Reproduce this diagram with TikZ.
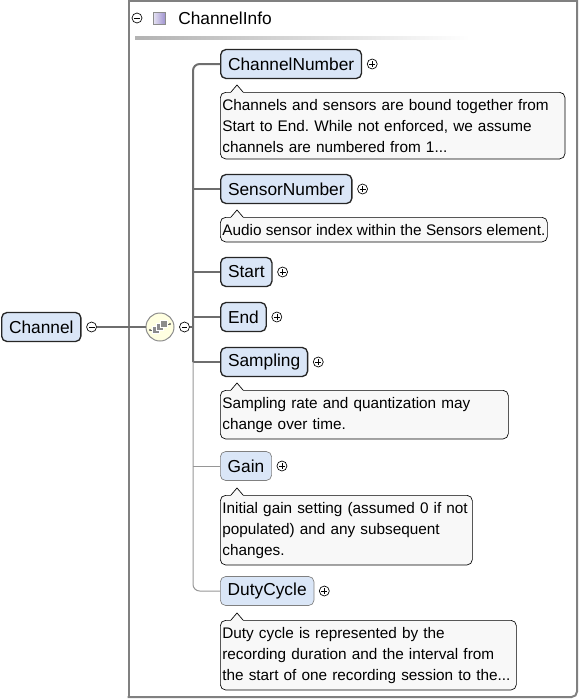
\documentclass[tikz,border=0pt]{standalone}
\usepackage{fontspec}
\setmainfont{Liberation Sans}
\usepackage{xcolor}
\usetikzlibrary{positioning}
\usetikzlibrary{calc}
\definecolor{elfill}{RGB}{218, 230, 247}
\definecolor{ntfill}{RGB}{248, 248, 248}
\definecolor{ln}{RGB}{110, 110, 110}
\definecolor{lnopt}{RGB}{150, 150, 150}
\definecolor{seqfill}{RGB}{255, 255, 225}
\definecolor{grp}{RGB}{160, 148, 208}
\frenchspacing

\tikzset{
    el/.style={draw=black!85, line width=1pt, fill=elfill, rounded corners=4pt, minimum height=21.75pt, inner xsep=5.5pt, inner ysep=0pt, font=\fontsize{13}{15}\selectfont, anchor=west},
    elopt/.style={el, draw=black!50, line width=0.5pt},
    nt/.style={draw, line width=0.5pt, fill=ntfill, rounded corners=4pt, inner xsep=1.5pt, inner ysep=5pt, align=left, anchor=north west, font=\fontsize{11.5}{15.75}\selectfont},
    btn/.style={circle, draw, line width=0.5pt, inner sep=0pt, minimum size=7.5pt},
    btnplus/.style={btn, path picture={\draw[line width=0.4pt] ([xshift=-2.2pt]path picture bounding box.center) -- ([xshift=2.2pt]path picture bounding box.center) ([yshift=-2.2pt]path picture bounding box.center) -- ([yshift=2.2pt]path picture bounding box.center);}},
    btnminus/.style={btn, path picture={\draw[line width=0.4pt] ([xshift=-2.2pt]path picture bounding box.center) -- ([xshift=2.2pt]path picture bounding box.center);}},
    con/.style={ln, line width=1.5pt},
    conopt/.style={lnopt, line width=0.75pt},
    frame/.style={black!50, line width=1.5pt, line cap=rect}
}

% the little notch on top of a note
\newcommand{\notch}[1]{
    \fill[ntfill] ($(#1.north west)+(11,0.8)$) -- ($(#1.north west)+(17,-7)$) -- ($(#1.north west)+(23,0.8)$) -- cycle;
    \draw[line width=0.5pt] ($(#1.north west)+(11,0)$) -- ($(#1.north west)+(17,-7)$) -- ($(#1.north west)+(23,0)$);
}

\begin{document}
\begin{tikzpicture}[x=0.75pt, y=-0.75pt]
        \useasboundingbox (0,0) rectangle (580,700);
        % group frame
        \draw[frame] (577,0.5) -- (128.5,0.5) -- (128.5,697);
        \draw[frame, rounded corners=4pt] (128.5,697) -- (577,697) -- (577,0.5);
        \node[btnminus] (hm) at (137,18) {};
        \node[draw=black!45, line width=0.5pt, minimum size=9pt, inner sep=0pt, left color=grp!25, right color=grp] (hq) at (159,18) {};
        \node[anchor=west, inner sep=0pt, font=\fontsize{13}{15}\selectfont] (hd) at (178,18) {ChannelInfo};
        \shade[left color=black!30, right color=white] (135,36) rectangle (470,39);

        % parent and sequence
        \node[el] (ch) at (1,327) {Channel};
        \node[btnminus, right=3.5pt of ch] (chm) {};
        \node[circle, draw=black!45, line width=0.75pt, fill=seqfill, minimum size=21pt, inner sep=0pt] (seq) at (160,327) {};
        \begin{scope}[shift={(seq.center)}]
            \draw[black!60, line width=0.6pt] (-10,3) -- (-3,3) (3,-3) -- (10,-3);
            \fill[black!60] (-10,3) circle (0.9pt) (10,-3) circle (0.9pt);
            \foreach \d in {-1,0,1}
                \filldraw[fill=black!45, draw=white, line width=0.4pt] ({4*\d-3.5},{-3*\d-3.5}) rectangle ++(7,7);
        \end{scope}
        \node[btnminus, right=3.5pt of seq] (seqm) {};
        \coordinate (bus) at (193,0);

        % children
        \node[el] (cn) at (220,64) {ChannelNumber};
        \node[btnplus, right=3.5pt of cn] (cnp) {};
        \node[nt, text width=255.5pt] (cnn) at (220,92) {Channels and sensors are bound together from\\Start to End. While not enforced, we assume\\channels are numbered from 1...};
        \notch{cnn}
        \node[el] (sn) at (220,189) {SensorNumber};
        \node[btnplus, right=3.5pt of sn] (snp) {};
        \node[nt] (snn) at (220,217) {Audio sensor index within the Sensors element.};
        \notch{snn}
        \node[el] (st) at (220,272) {Start};
        \node[btnplus, right=3.5pt of st] (stp) {};
        \node[el] (en) at (220,317) {End};
        \node[btnplus, right=3.5pt of en] (enp) {};
        \node[el] (sm) at (220,362) {Sampling};
        \node[btnplus, right=3.5pt of sm] (smp) {};
        \node[nt, text width=213pt] (smn) at (220,390) {Sampling rate and quantization may\\change over time.};
        \notch{smn}
        \node[elopt] (gn) at (220,466) {Gain};
        \node[btnplus, right=3.5pt of gn] (gnp) {};
        \node[nt, text width=186pt] (gnn) at (220,495) {Initial gain setting (assumed 0 if not\\populated) and any subsequent\\changes.};
        \notch{gnn}
        \node[elopt] (dc) at (220,591) {DutyCycle};
        \node[btnplus, right=3.5pt of dc] (dcp) {};
        \node[nt, text width=219pt] (dcn) at (220,620) {Duty cycle is represented by the\\recording duration and the interval from\\the start of one recording session to the...};
        \notch{dcn}

        % connectors
        \draw[con] (chm) -- (seq);
        \draw[con] (seqm) -- (seqm -| bus);
        \draw[con, rounded corners=5pt] (sm.west -| bus) |- (cn.west);
        \draw[con] (sn.west -| bus) -- (sn.west);
        \draw[con] (st.west -| bus) -- (st.west);
        \draw[con] (en.west -| bus) -- (en.west);
        \draw[con] (sm.west -| bus) -- (sm.west);
        \draw[conopt, rounded corners=5pt] (sm.west -| bus) |- (dc.west);
        \draw[conopt] (gn.west -| bus) -- (gn.west);
    \end{tikzpicture}
\end{document}
